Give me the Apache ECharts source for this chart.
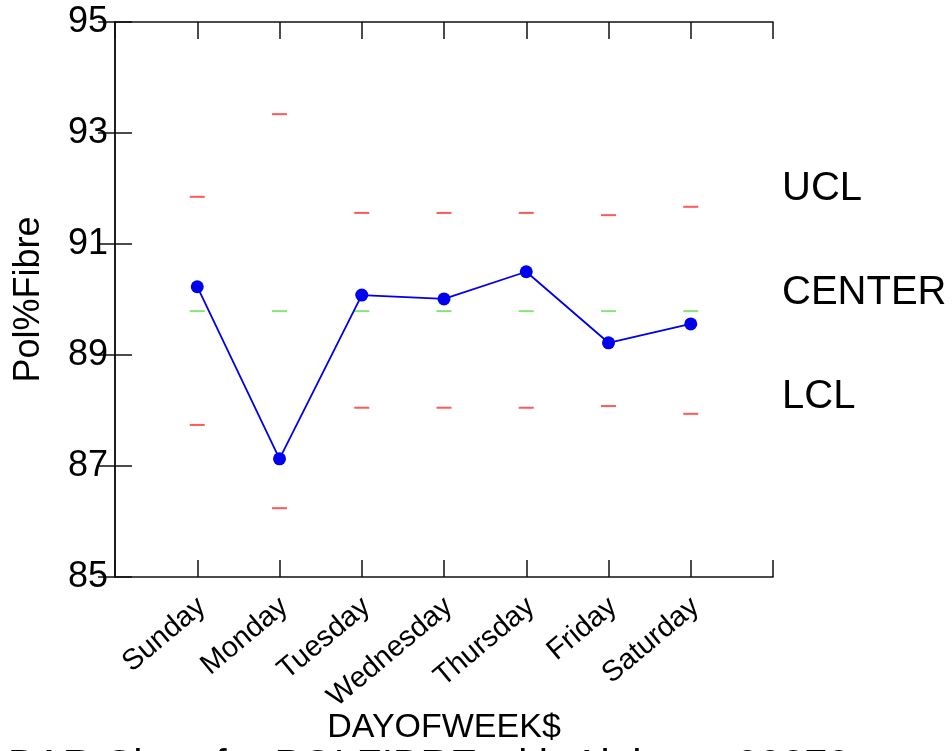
<!DOCTYPE html>
<html>
<head>
<meta charset="utf-8">
<script src="https://cdn.jsdelivr.net/npm/echarts@6/dist/echarts.min.js"></script>
<style>
  html, body { margin: 0; padding: 0; background: #fff; }
  #chart { width: 952px; height: 751px; }
</style>
</head>
<body>
<div id="chart"></div>
<script>
// days of week (x positions 1..7)
var days = ['Sunday', 'Monday', 'Tuesday', 'Wednesday', 'Thursday', 'Friday', 'Saturday'];
// subgroup means
var means = [90.23, 87.13, 90.08, 90.01, 90.50, 89.22, 89.56];
// control limits per day
var ucl = [91.85, 93.34, 91.56, 91.56, 91.56, 91.52, 91.67];
var lcl = [87.74, 86.24, 88.05, 88.05, 88.05, 88.08, 87.94];
var center = [89.79, 89.79, 89.79, 89.79, 89.79, 89.79, 89.79];
var yTicks = [85, 87, 89, 91, 93, 95];

var font = 'Liberation Sans, Arial, sans-serif';

// pair each value with its day position
function toPoints(arr) {
    return arr.map(function (v, i) { return [i + 1, v]; });
}

var axisLine = { show: true, lineStyle: { color: '#111', width: 1.5 } };
var axisTick = { show: true, inside: true, length: 17, lineStyle: { color: '#111', width: 1.5 } };

var option = {
    animation: false,
    backgroundColor: '#fff',
    grid: { left: 115, right: 179, top: 22, bottom: 174 },
    xAxis: [{
        type: 'value', min: 0, max: 8, interval: 1, position: 'bottom',
        axisLine: axisLine, axisTick: axisTick, splitLine: { show: false },
        axisLabel: {
            rotate: 40, margin: 30, fontSize: 29, fontFamily: font, color: '#000',
            padding: [0, -6, 0, 0],
            formatter: function (v) { return days[v - 1] || ''; }
        },
        name: 'DAYOFWEEK$', nameLocation: 'middle', nameGap: 134, nameMoveOverlap: false,
        nameTextStyle: { fontSize: 34, fontFamily: font, color: '#000' }
    }, {
        type: 'value', min: 0, max: 8, interval: 1, position: 'top',
        axisLine: axisLine, axisTick: axisTick, splitLine: { show: false },
        axisLabel: { show: false }
    }],
    yAxis: [{
        type: 'value', min: yTicks[0], max: yTicks[yTicks.length - 1], interval: 2,
        axisLine: axisLine, axisTick: axisTick, splitLine: { show: false },
        axisLabel: { margin: 7, fontSize: 36, fontFamily: font, color: '#000' },
        name: 'Pol%Fibre', nameLocation: 'middle', nameRotate: 90, nameGap: 68, nameMoveOverlap: false,
        nameTextStyle: { fontSize: 36, fontFamily: font, color: '#000' }
    }, {
        type: 'value', min: yTicks[0], max: yTicks[yTicks.length - 1], interval: 2, position: 'right',
        axisLine: axisLine, axisTick: axisTick, splitLine: { show: false },
        axisLabel: { show: false }
    }],
    series: [{
        name: 'UCL', type: 'scatter', data: toPoints(ucl),
        symbol: 'rect', symbolSize: [15, 2], itemStyle: { color: '#ff3030' }
    }, {
        name: 'LCL', type: 'scatter', data: toPoints(lcl),
        symbol: 'rect', symbolSize: [15, 2], itemStyle: { color: '#ff3030' }
    }, {
        name: 'CENTER', type: 'scatter', data: toPoints(center),
        symbol: 'rect', symbolSize: [15, 2], itemStyle: { color: '#66dd55' }
    }, {
        name: 'Mean', type: 'line', data: toPoints(means), z: 5,
        symbol: 'circle', symbolSize: 13,
        lineStyle: { color: '#0000ee', width: 1.8 },
        itemStyle: { color: '#0000ee' }
    }],
    graphic: [
        { type: 'text', left: 782, top: 169, style: { text: 'UCL', fontSize: 40, fontFamily: font, fill: '#000' } },
        { type: 'text', left: 782, top: 273, style: { text: 'CENTER', fontSize: 40, fontFamily: font, fill: '#000' } },
        { type: 'text', left: 782, top: 377, style: { text: 'LCL', fontSize: 40, fontFamily: font, fill: '#000' } },
        { type: 'text', left: 8, top: 746, style: { text: 'BAR Chart for POLFIBRE with Alpha = .00270', fontSize: 41, fontFamily: font, fill: '#000' } }
    ]
};

var myChart = echarts.init(document.getElementById('chart'));
myChart.setOption(option);
</script>
</body>
</html>
